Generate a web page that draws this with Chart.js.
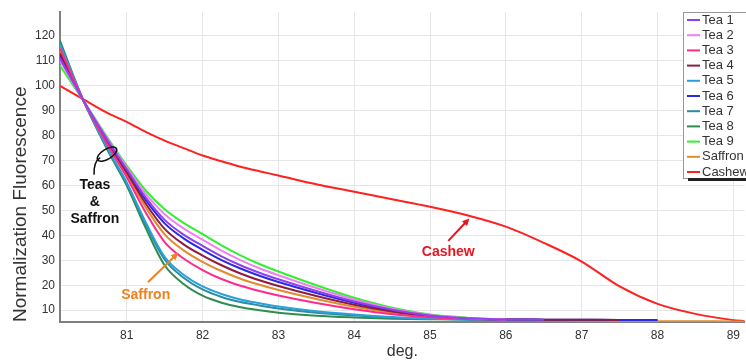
<!DOCTYPE html>
<html>
<head>
<meta charset="utf-8">
<script src="https://cdn.jsdelivr.net/npm/chart.js@4.4.0/dist/chart.umd.min.js"></script>
<style>
  html, body { margin: 0; padding: 0; background: #fff; }
  #meltCurves { display: block; }
</style>
</head>
<body>
<canvas id="meltCurves" width="746" height="361"></canvas>
<script>
// melt temperatures shared by every curve (deg.)
const temps = [80.12, 80.43, 80.75, 81, 81.25, 81.5, 81.75, 82, 82.25, 82.5, 82.75, 83, 83.5, 84, 84.5, 85, 85.5, 86, 86.5, 87, 87.5, 88, 88.5, 89, 89.15];

// normalised fluorescence per sample, null where the trace stops
const tea1 = [111, 94, 78, 66.5, 55.2, 46.2, 40.3, 35.8, 31.6, 28, 25, 22.4, 17.7, 13.5, 10.2, 7.9, 6.75, 6.3, 6.2, null, null, null, null, null, null];
const tea2 = [110, 94, 78.5, 67.3, 56.6, 48.5, 42.8, 38.3, 33.9, 30.1, 26.8, 24, 18.9, 14.3, 10.6, 8.1, 6.85, 6.3, null, null, null, null, null, null, null];
const tea3 = [115, 94, 76.1, 63.3, 49.2, 37.3, 30.7, 26.1, 22.5, 19.8, 17.7, 15.9, 12.9, 10.4, 8.4, 7.2, 6.5, 6.25, null, null, null, null, null, null, null];
const tea4 = [113, 94, 77.3, 65.2, 52.8, 42.6, 36.4, 31.9, 28, 24.7, 22, 19.7, 15.7, 12.2, 9.5, 7.6, 6.65, 6.3, 6.2, 6.15, 6.1, null, null, null, null];
const tea5 = [116.5, 94, 74.8, 61.2, 45.3, 31.4, 24.2, 19.5, 16.5, 14.3, 12.8, 11.5, 9.6, 8.3, 7.3, 6.65, 6.3, 6.2, 6.15, null, null, null, null, null, null];
const tea6 = [112, 94, 77.7, 66, 54.2, 44.8, 38.8, 34.2, 30.1, 26.7, 23.8, 21.3, 16.9, 13, 9.9, 7.8, 6.7, 6.3, 6.2, 6.15, 6.1, 6.1, null, null, null];
const tea7 = [117, 94, 74.5, 60.8, 44.5, 30.3, 23, 18.3, 15.3, 13.3, 11.9, 10.7, 9, 7.9, 7, 6.55, 6.25, 6.15, 6.1, 6.1, null, null, null, null, null];
const tea8 = [118, 94, 74, 60, 43, 28, 20.5, 15.8, 13, 11.2, 10, 9, 7.8, 7.1, 6.6, 6.35, 6.2, 6.1, 6.1, 6.1, 6.1, 6.1, null, null, null];
const tea9 = [108, 94, 79, 68, 58, 50.5, 45, 40.5, 36, 32, 28.5, 25.5, 20, 15, 11, 8.3, 6.9, null, null, null, null, null, null, null, null];
const saffron = [114, 94, 76.8, 64.4, 51.3, 40.4, 34, 29.4, 25.7, 22.6, 20.2, 18.1, 14.5, 11.4, 9, 7.4, 6.6, 6.2, 6.0, 5.8, 5.7, 5.6, 5.6, 5.5, 5.5];
const cashew = [100, 94.5, 89, 85.5, 81.5, 78, 75, 72, 69.7, 67.5, 65.7, 64, 60.5, 57.5, 54.5, 51.5, 48, 43.5, 37, 29.5, 19.5, 12.5, 8.5, 6, 5.6];

const seriesNames = ['Tea 1', 'Tea 2', 'Tea 3', 'Tea 4', 'Tea 5', 'Tea 6', 'Tea 7', 'Tea 8', 'Tea 9', 'Saffron', 'Cashew'];
const seriesValues = [tea1, tea2, tea3, tea4, tea5, tea6, tea7, tea8, tea9, saffron, cashew];
const seriesColors = ['#9040f0', '#f080f0', '#ff2a8c', '#8c1c40', '#2aa0dc', '#2a2ae6', '#2a8c9c', '#2e8c50', '#30f030', '#e08c2c', '#ff2020'];

const xTicks = [81, 82, 83, 84, 85, 86, 87, 88, 89];
const yTicks = [10, 20, 30, 40, 50, 60, 70, 80, 90, 100, 110, 120];

const FONT = "'Liberation Sans', Arial, sans-serif";
Chart.defaults.font.family = FONT;
Chart.defaults.color = '#333';

function toPoints(values) {
    return temps.map((t, i) => ({ x: t, y: values[i] }));
}

function drawArrow(ctx, x0, y0, x1, y1, color) {
    const ang = Math.atan2(y1 - y0, x1 - x0);
    ctx.strokeStyle = color;
    ctx.fillStyle = color;
    ctx.lineWidth = 2;
    ctx.beginPath();
    ctx.moveTo(x0, y0);
    ctx.lineTo(x1 - 5 * Math.cos(ang), y1 - 5 * Math.sin(ang));
    ctx.stroke();
    ctx.beginPath();
    ctx.moveTo(x1, y1);
    ctx.lineTo(x1 - 8 * Math.cos(ang - 0.45), y1 - 8 * Math.sin(ang - 0.45));
    ctx.lineTo(x1 - 8 * Math.cos(ang + 0.45), y1 - 8 * Math.sin(ang + 0.45));
    ctx.closePath();
    ctx.fill();
}

// hand labels over the curves, positioned in chart units
const curveNotes = {
    id: 'curveNotes',
    afterDatasetsDraw(chart) {
        const { ctx, scales: { x, y } } = chart;
        const px = v => x.getPixelForValue(v);
        const py = v => y.getPixelForValue(v);
        ctx.save();
        ctx.textAlign = 'center';
        ctx.textBaseline = 'middle';

        // loop around the tea bundle with its tail
        ctx.strokeStyle = '#111';
        ctx.lineWidth = 1.5;
        ctx.beginPath();
        ctx.ellipse(px(80.74), py(72.6), 11, 5, -0.55, 0, Math.PI * 2);
        ctx.stroke();
        ctx.beginPath();
        ctx.moveTo(px(80.65), py(71.2));
        ctx.quadraticCurveTo(px(80.56), py(69.5), px(80.57), py(64.3));
        ctx.stroke();

        ctx.fillStyle = '#111';
        ctx.font = 'bold 14px ' + FONT;
        const tx = px(80.58), ty = py(60.2);
        ctx.fillText('Teas', tx, ty);
        ctx.fillText('&', tx, ty + 17);
        ctx.fillText('Saffron', tx, ty + 34);

        drawArrow(ctx, px(81.28), py(21.2), px(81.68), py(33), '#f08020');
        ctx.fillStyle = '#f08020';
        ctx.fillText('Saffron', px(81.25), py(16));

        drawArrow(ctx, px(85.24), py(37.8), px(85.52), py(46.8), '#e8141e');
        ctx.fillStyle = '#e8141e';
        ctx.fillText('Cashew', px(85.24), py(33.4));
        ctx.restore();
    },
    afterDraw(chart) {
        const ctx = chart.ctx;
        const left = 683, top = 12, rowH = 15.2;
        ctx.save();
        ctx.fillStyle = '#fff';
        ctx.fillRect(left, top, 80, 166);
        ctx.strokeStyle = '#999';
        ctx.lineWidth = 1;
        ctx.strokeRect(left + 0.5, top + 0.5, 80, 166);
        ctx.fillStyle = '#222';
        ctx.fillRect(left + 5, top + 166, 80, 3);
        ctx.font = '13px ' + FONT;
        ctx.textBaseline = 'middle';
        ctx.textAlign = 'left';
        chart.data.datasets.forEach((ds, i) => {
            const ly = top + 8 + i * rowH;
            ctx.strokeStyle = ds.borderColor;
            ctx.lineWidth = 2;
            ctx.beginPath();
            ctx.moveTo(left + 4, ly);
            ctx.lineTo(left + 17, ly);
            ctx.stroke();
            ctx.fillStyle = '#333';
            ctx.fillText(ds.label, left + 19, ly);
        });
        ctx.restore();
    }
};

const chart = new Chart(document.getElementById('meltCurves'), {
    type: 'line',
    data: {
        datasets: seriesNames.map((name, i) => ({
            label: name,
            data: toPoints(seriesValues[i]),
            borderColor: seriesColors[i],
            backgroundColor: seriesColors[i],
            borderWidth: 2,
            pointRadius: 0,
            fill: false,
            spanGaps: false,
            cubicInterpolationMode: 'monotone'
        }))
    },
    options: {
        responsive: false,
        animation: false,
        devicePixelRatio: 1,
        layout: { padding: { top: 8, right: 0, left: 0, bottom: 0 } },
        plugins: { legend: { display: false }, tooltip: { enabled: false } },
        scales: {
            x: {
                type: 'linear',
                min: 80.12,
                max: 89.15,
                afterBuildTicks: s => { s.ticks = xTicks.map(v => ({ value: v })); },
                afterFit: s => { s.height = 39; },
                ticks: { font: { size: 12 }, color: '#333', padding: 6 },
                grid: { color: '#e6e6e6', drawTicks: false },
                border: { color: '#808080', width: 2 },
                title: { display: true, text: 'deg.', font: { size: 16 }, color: '#333', padding: { top: 0, bottom: 0 } }
            },
            y: {
                min: 5.25,
                max: 129.5,
                afterBuildTicks: s => { s.ticks = yTicks.map(v => ({ value: v })); },
                afterFit: s => { s.width = 60; },
                ticks: { font: { size: 12 }, color: '#333', padding: 5 },
                grid: { color: '#e6e6e6', drawTicks: false },
                border: { color: '#808080', width: 2 },
                title: { display: true, text: 'Normalization Fluorescence', align: 'start', font: { size: 19 }, color: '#333', padding: { top: 9, bottom: 0 } }
            }
        }
    },
    plugins: [curveNotes]
});
</script>
</body>
</html>
